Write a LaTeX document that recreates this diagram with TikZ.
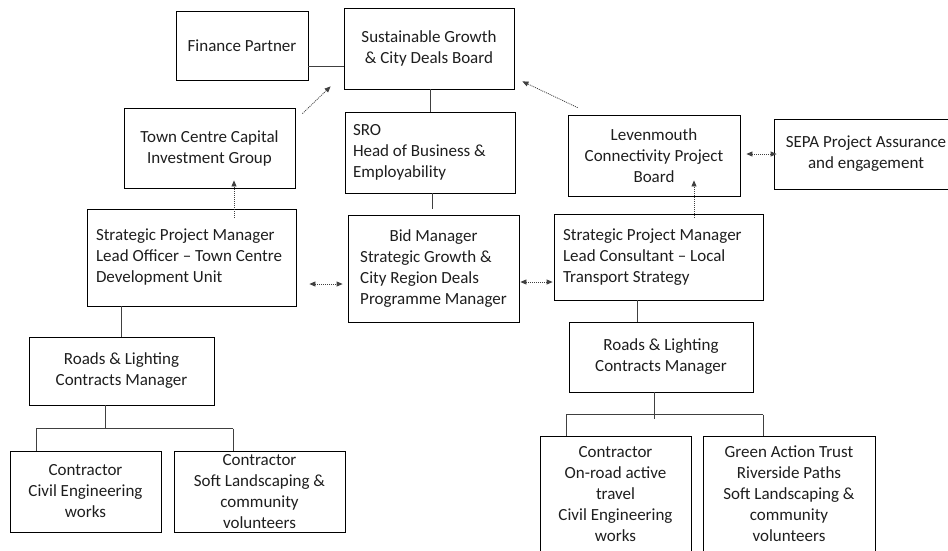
\documentclass[tikz,border=0pt]{standalone}
\usepackage{fontspec}
\setmainfont{Carlito}
\usetikzlibrary{arrows.meta,calc}
\definecolor{txt}{RGB}{30,30,30}
\definecolor{linegray}{RGB}{64,64,64}
\newcommand{\lbox}[2]{\makebox[#1][l]{\begin{tabular}{@{}l@{}}#2\end{tabular}}}
\begin{document}
\begin{tikzpicture}[x=1pt,y=-1pt,
  boxbase/.style={draw=black, line width=0.8pt, rectangle, inner sep=0pt, text=txt, font=\fontsize{17}{21}\selectfont},
  cbox/.style={boxbase, align=center},
  conn/.style={draw=linegray, line width=0.9pt},
  darr/.style={draw=linegray, line width=0.8pt, dash pattern=on 1pt off 1pt, -{Triangle[length=6pt,width=5pt]}},
  ddarr/.style={draw=linegray, line width=0.8pt, dash pattern=on 1pt off 1pt, {Triangle[length=6pt,width=5pt]}-{Triangle[length=6pt,width=5pt]}}
]
\useasboundingbox (0,0) rectangle (948,550);
\clip (0,0) rectangle (948,550);

% boxes
\node[cbox, minimum width=132pt, minimum height=69pt] (fin) at (242,45.5) {Finance Partner};
\node[cbox, minimum width=170pt, minimum height=81pt] (sg) at (429,48.5) {Sustainable Growth\\\& City Deals Board};
\node[boxbase, minimum width=170pt, minimum height=81pt, inner xsep=8pt] (sro) at (430,152.5) {\lbox{154pt}{SRO\\Head of Business \&\\Employability}};
\node[cbox, minimum width=171pt, minimum height=80pt] (tc) at (209.5,148) {Town Centre Capital\\Investment Group};
\node[cbox, minimum width=172pt, minimum height=81pt] (lev) at (654,155.5) {Levenmouth\\Connectivity Project\\Board};
\node[cbox, minimum width=184pt, minimum height=70pt] (sepa) at (866,154) {SEPA Project Assurance\\and engagement};
\node[boxbase, minimum width=209pt, minimum height=97pt, inner xsep=9pt] (spmL) at (191.5,257.5) {\lbox{191pt}{Strategic Project Manager\\Lead Officer -- Town Centre\\Development Unit}};
\node[boxbase, minimum width=171pt, minimum height=107pt] (bid) at (433.5,268.5) {\begin{tabular}{@{}l@{}}\multicolumn{1}{@{}c@{}}{Bid Manager}\\Strategic Growth \&\\City Region Deals\\Programme Manager\end{tabular}};
\node[boxbase, minimum width=209pt, minimum height=86pt, inner xsep=9pt] (spmR) at (658.5,257) {\lbox{191pt}{Strategic Project Manager\\Lead Consultant -- Local\\Transport Strategy}};
\node[cbox, minimum width=185pt, minimum height=68pt] (rdL) at (121.5,371) {Roads \& Lighting\\Contracts Manager};
\node[cbox, minimum width=184pt, minimum height=70pt] (rdR) at (661,357) {Roads \& Lighting\\Contracts Manager};
\node[cbox, minimum width=151pt, minimum height=81pt] (cL) at (85.5,491.5) {Contractor\\Civil Engineering\\works};
\node[cbox, minimum width=171pt, minimum height=81pt] (cS) at (259.5,491.5) {Contractor\\Soft Landscaping \&\\community\\volunteers};
\node[cbox, minimum width=151pt, minimum height=116pt] (cR) at (615.5,494) {Contractor\\On-road active\\travel\\Civil Engineering\\works};
\node[cbox, minimum width=172pt, minimum height=116pt] (ga) at (789,494) {Green Action Trust\\Riverside Paths\\Soft Landscaping \&\\community\\volunteers};

% solid connectors
\coordinate (f1) at ($(fin.east)+(0,20.5)$);
\draw[conn] (f1) -- (f1 -| sg.west);
\draw[conn] (sg.south -| sro.north) -- (sro.north);
\coordinate (s1) at ($(sro.south)+(2,0)$);
\coordinate (s2) at ($(bid.north)+(-1.5,-6)$);
\draw[conn] (s1) -- (s1 |- s2);
\draw[conn] (rdL.north |- spmL.south) -- (rdL.north);
\coordinate (r1) at ($(rdR.north)+(-24,0)$);
\draw[conn] (r1) -- (r1 |- spmR.south);

% left tree
\coordinate (jL) at ($(rdL.south)+(-16.5,24)$);
\coordinate (jL1) at ($(cL.north)+(-49.5,-22)$);
\coordinate (jL2) at ($(cS.north)+(-26.5,-22)$);
\draw[conn] (jL |- rdL.south) -- (jL);
\draw[conn] (jL1) -- (jL2);
\draw[conn] (jL1) -- (jL1 |- cL.north);
\draw[conn] (jL2) -- (jL2 |- cS.north);

% right tree
\coordinate (jR) at ($(rdR.south)+(-7,27)$);
\coordinate (jR1) at ($(cR.north)+(-49.5,-21)$);
\coordinate (jR2) at ($(ga.north)+(-26,-21)$);
\draw[conn] (jR |- rdR.south) -- (jR);
\draw[conn] (jR1) -- (jR2);
\draw[conn] (jR1) -- (jR1 |- cR.north);
\draw[conn] (jR2) -- (jR2 |- ga.north);

% dotted arrows
\draw[darr] ($(tc.north east)+(7,6)$) -- ($(sg.south west)+(-13,-3)$);
\draw[darr] ($(lev.north west)+(10,-7)$) -- ($(sg.south east)+(8,-8)$);
\draw[darr] ($(spmL.north)+(42.5,9)$) -- ($(tc.south)+(24.5,-8)$);
\draw[darr] ($(spmR.north)+(35.5,4)$) -- ($(lev.south)+(40,-16)$);
\draw[ddarr] ($(spmL.east)+(13,26.5)$) -- ($(bid.west)+(-5,15.5)$);
\draw[ddarr] ($(bid.east)+(1,13.5)$) -- ($(spmR.west)+(-1,25)$);
\draw[ddarr] ($(lev.east)+(6,-1.5)$) -- ($(sepa.west)+(3,0)$);
\end{tikzpicture}
\end{document}
